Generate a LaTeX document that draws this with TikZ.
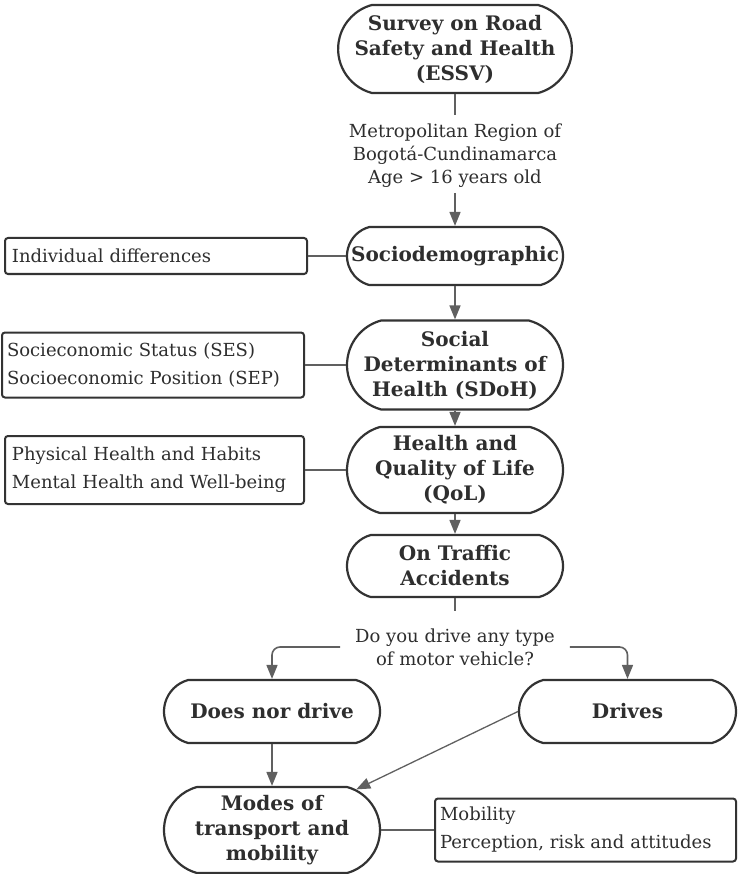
\documentclass[tikz,border=0pt]{standalone}
\usepackage{fontspec}
\setmainfont{DejaVu Serif}
\usetikzlibrary{shapes.misc,arrows.meta}
\definecolor{ink}{HTML}{2E2E2E}
\definecolor{edge}{HTML}{333333}
\definecolor{wire}{HTML}{606060}
\begin{document}
\begin{tikzpicture}[x=1pt,y=-1pt,
  term/.style={rounded rectangle, rounded rectangle arc length=150, draw=edge,
    line width=2.2pt, fill=white, minimum width=218pt, inner sep=1pt,
    align=center, text=ink, font=\bfseries\fontsize{20}{25}\selectfont},
  infobox/.style={rectangle, rounded corners=3pt, draw=edge, line width=2pt,
    align=left, text=ink, inner ysep=0pt, font=\fontsize{18}{28}\selectfont},
  plain/.style={align=center, text=ink, inner sep=0pt, font=\fontsize{18}{23}\selectfont},
  wire/.style={draw=wire, line width=1.6pt},
  arr/.style={wire, -{Triangle[length=14pt,width=11pt]}}]
\useasboundingbox (0,0) rectangle (737,874);

% main column
\node[term, minimum width=215pt, minimum height=88pt] (survey) at (455,49)
  {Survey on Road\\Safety and Health\\(ESSV)};
\node[plain] (region) at (455,156)
  {Metropolitan Region of\\Bogotá-Cundinamarca\\Age > 16 years old};
\coordinate (regiontop) at (455,115);
\coordinate (regionbottom) at (455,193);
\node[term, minimum height=58pt] (socio) at (455,256) {Sociodemographic};
\node[term, minimum height=89pt] (sdoh) at (455,365)
  {Social\\Determinants of\\Health (SDoH)};
\node[term, minimum height=86pt] (qol) at (455,470)
  {Health and\\Quality of Life\\(QoL)};
\node[term, minimum height=62pt] (traffic) at (455,566)
  {On Traffic\\Accidents};
\node[plain, inner xsep=15pt, minimum height=72pt] (question) at (455,647)
  {Do you drive any type\\of motor vehicle?};
\node[term, minimum height=63pt] (nodrive) at (272,711.5) {Does nor drive};
\node[term, minimum height=63pt, minimum width=219pt] (drives) at (627.5,711.5) {Drives};
\node[term, minimum height=86pt] (modes) at (272,830)
  {Modes of\\transport and\\mobility};

% side boxes
\node[infobox, text width=288pt, inner xsep=7pt, minimum height=36pt] (indiv) at (156,256)
  {Individual differences};
\node[infobox, text width=292pt, inner xsep=5pt, minimum height=65pt] (ses) at (153,365)
  {Socieconomic Status (SES)\\Socioeconomic Position (SEP)};
\node[infobox, text width=285pt, inner xsep=7pt, minimum height=68pt] (habits) at (154.5,470)
  {Physical Health and Habits\\Mental Health and Well-being};
\node[infobox, text width=291pt, inner xsep=5pt, minimum height=63pt] (mob) at (585.5,830)
  {Mobility\\Perception, risk and attitudes};

% connectors
\draw[wire] (survey.south) -- (regiontop);
\draw[arr] (regionbottom) -- (socio.north);
\draw[arr] (socio.south) -- (sdoh.north);
\draw[arr] (sdoh.south) -- (qol.north);
\draw[arr] (qol.south) -- (traffic.north);
\draw[wire] (traffic.south) -- (question.north);
\draw[arr, rounded corners=8pt] (question.west) -| (nodrive.north);
\draw[arr, rounded corners=8pt] (question.east) -| (drives.north);
\draw[arr] (nodrive.south) -- (modes.north);
\draw[arr, line width=1.3pt] (drives.west) -- (modes);
\draw[wire] (indiv.east) -- (socio.west);
\draw[wire] (ses.east) -- (sdoh.west);
\draw[wire] (habits.east) -- (qol.west);
\draw[wire] (modes.east) -- (mob.west);
\end{tikzpicture}
\end{document}
